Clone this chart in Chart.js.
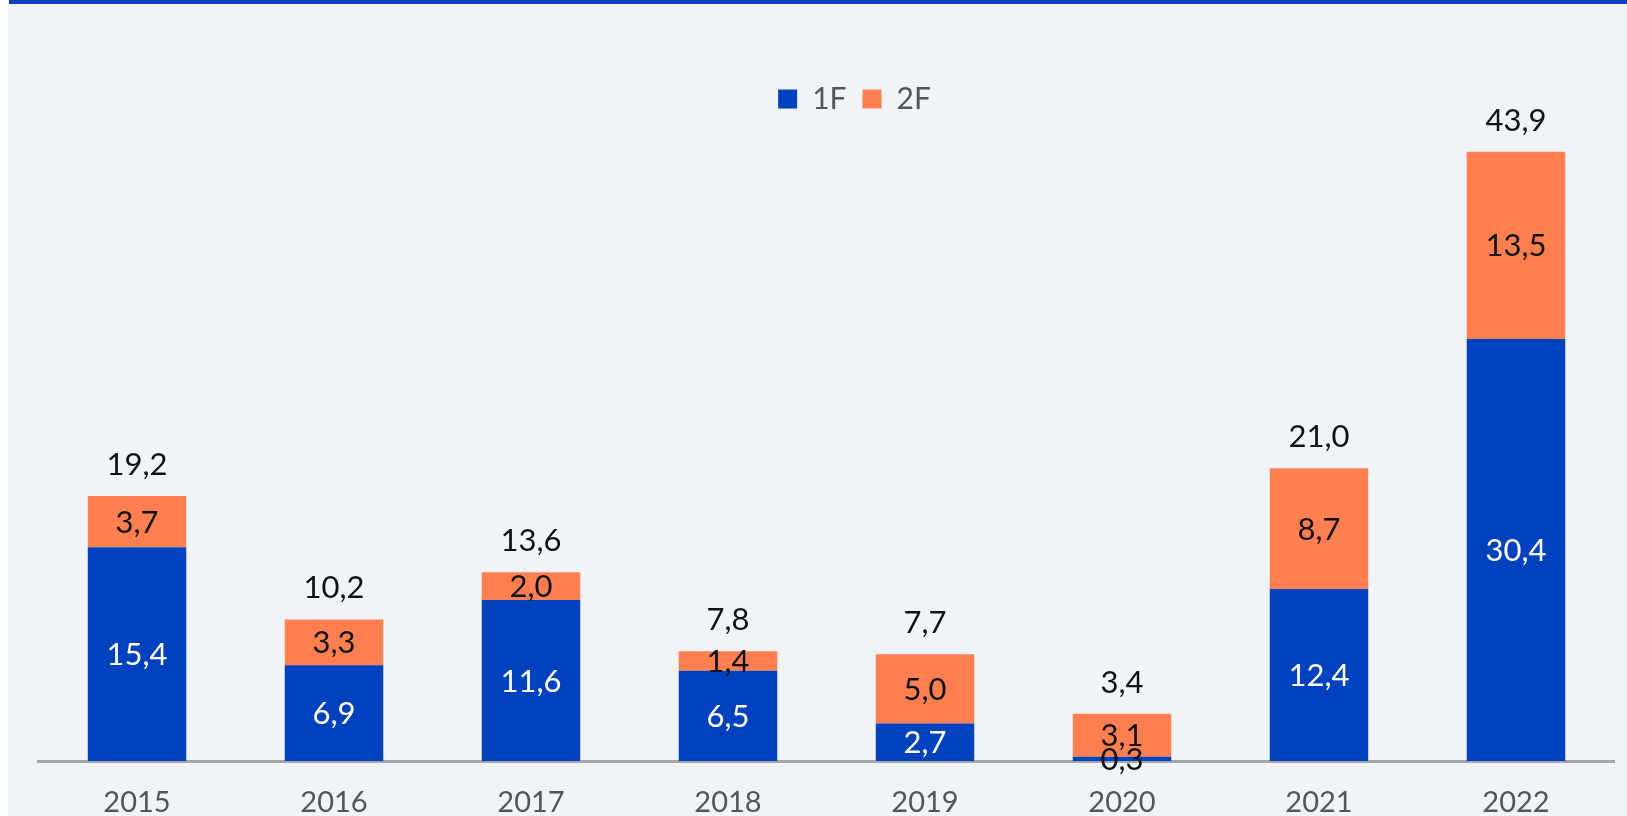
<!DOCTYPE html>
<html>
<head>
<meta charset="utf-8">
<script src="https://cdn.jsdelivr.net/npm/chart.js@4.4.0/dist/chart.umd.min.js"></script>
<style>
    html, body { margin: 0; padding: 0; background: #ffffff; }
    #panel { position: absolute; left: 8px; top: 0; width: 1619px; height: 816px; background: #f0f4f8; }
    #topline { position: absolute; left: 9px; top: 0; width: 1618px; height: 4px; background: #0a3fbf; }
    #chart { position: absolute; left: 0; top: 0; }
</style>
</head>
<body>
<div id="panel"></div>
<div id="topline"></div>
<canvas id="chart" width="1627" height="816"></canvas>
<script>
const years = ["2015", "2016", "2017", "2018", "2019", "2020", "2021", "2022"];
const values1F = [15.4, 6.9, 11.6, 6.5, 2.7, 0.3, 12.4, 30.4];
const values2F = [3.7, 3.3, 2.0, 1.4, 5.0, 3.1, 8.7, 13.5];
const totals = [19.2, 10.2, 13.6, 7.8, 7.7, 3.4, 21.0, 43.9];

const FONT = "Lato, 'Noto Sans', sans-serif";

function formatValue(v) {
    return v.toFixed(1).replace(".", ",");
}

// value labels inside the segments and totals above each stack
const barLabels = {
    id: "barLabels",
    afterDatasetsDraw(chart) {
        const ctx = chart.ctx;
        ctx.save();
        ctx.font = "31px " + FONT;
        ctx.textAlign = "center";
        ctx.textBaseline = "middle";

        chart.data.datasets.forEach(function (dataset, i) {
            const meta = chart.getDatasetMeta(i);
            meta.data.forEach(function (bar, j) {
                const mid = (bar.y + bar.base) / 2;
                const tiny = Math.abs(bar.base - bar.y) < 20;
                ctx.fillStyle = (i === 0 && !tiny) ? "#ffffff" : "#111111";
                ctx.fillText(formatValue(dataset.data[j]), bar.x, mid + 1);
            });
        });

        const topMeta = chart.getDatasetMeta(1);
        topMeta.data.forEach(function (bar, j) {
            ctx.fillStyle = "#111111";
            ctx.fillText(formatValue(totals[j]), bar.x, bar.y - 31);
        });
        ctx.restore();
    }
};

// legend sits a little right of the plot centre in the original
const legendShift = {
    id: "legendShift",
    afterLayout(chart) {
        if (chart.legend) {
            chart.legend.left += 28;
            chart.legend.right += 28;
        }
    }
};

new Chart(document.getElementById("chart"), {
    type: "bar",
    data: {
        labels: years,
        datasets: [
            {
                label: "1F",
                data: values1F,
                backgroundColor: "#0041be",
                barPercentage: 0.5,
                categoryPercentage: 1.0,
            },
            {
                label: "2F",
                data: values2F,
                backgroundColor: "#ff7f50",
                barPercentage: 0.5,
                categoryPercentage: 1.0,
            },
        ],
    },
    options: {
        responsive: false,
        animation: false,
        layout: {
            padding: { left: 38.5, right: 12.5, top: 68, bottom: 0 },
        },
        plugins: {
            tooltip: { enabled: false },
            legend: {
                position: "top",
                labels: {
                    boxWidth: 19,
                    boxHeight: 19,
                    padding: 16,
                    color: "#555555",
                    font: { family: FONT, size: 30 },
                },
            },
        },
        scales: {
            x: {
                stacked: true,
                grid: { display: false, drawTicks: false },
                border: { display: true, color: "#a2a5a9", width: 3 },
                ticks: {
                    color: "#555555",
                    padding: 24,
                    font: { family: FONT, size: 29 },
                },
                afterFit: function (scale) {
                    scale.height = 55;
                },
            },
            y: {
                stacked: true,
                display: false,
                min: 0,
                max: 45.9,
            },
        },
    },
    plugins: [barLabels, legendShift],
});
</script>
</body>
</html>
